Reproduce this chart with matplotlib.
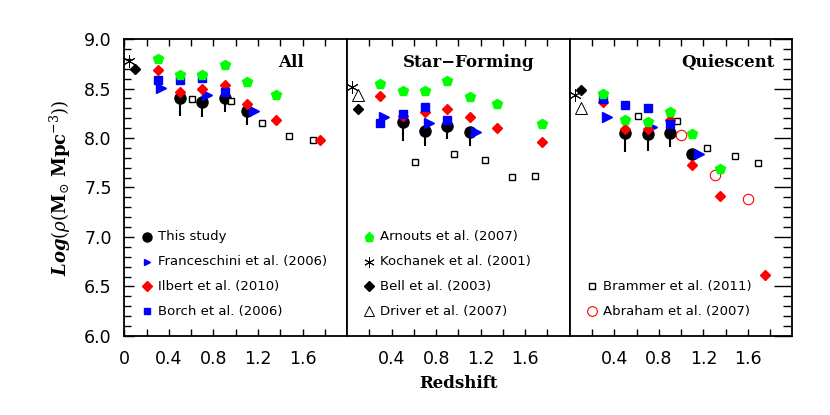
import numpy as np
import matplotlib
matplotlib.use("Agg")
import matplotlib.pyplot as plt
from matplotlib.ticker import MultipleLocator

plt.rcParams['mathtext.fontset'] = 'dejavuserif'

# ---- This study (black circles, lower error bars) ----
this_z = [0.50, 0.70, 0.90, 1.10]
this_all = [8.40, 8.36, 8.40, 8.27]
this_all_lo = [0.18, 0.15, 0.14, 0.14]
this_sf = [8.16, 8.07, 8.12, 8.06]
this_sf_lo = [0.19, 0.15, 0.13, 0.14]
this_q = [8.05, 8.04, 8.05, 7.84]
this_q_lo = [0.19, 0.17, 0.14, 0.10]
this_q_hi = [0.0, 0.0, 0.0, 0.05]

# ---- Arnouts et al. (2007) ----
arn_z_all = [0.30, 0.50, 0.70, 0.90, 1.10, 1.36]
arn_all = [8.80, 8.64, 8.64, 8.74, 8.57, 8.43]
arn_z_sf = [0.30, 0.50, 0.70, 0.90, 1.10, 1.35, 1.75]
arn_sf = [8.55, 8.47, 8.47, 8.58, 8.41, 8.34, 8.14]
arn_z_q = [0.30, 0.50, 0.70, 0.90, 1.10, 1.35]
arn_q = [8.44, 8.18, 8.16, 8.26, 8.04, 7.69]

# ---- Ilbert et al. (2010) ----
ilb_z_all = [0.30, 0.50, 0.70, 0.90, 1.10, 1.36, 1.76]
ilb_all = [8.69, 8.46, 8.49, 8.54, 8.34, 8.18, 7.98]
ilb_z_sf = [0.30, 0.50, 0.70, 0.90, 1.10, 1.35, 1.75]
ilb_sf = [8.42, 8.22, 8.26, 8.29, 8.21, 8.10, 7.96]
ilb_z_q = [0.30, 0.50, 0.70, 0.90, 1.10, 1.35, 1.75]
ilb_q = [8.36, 8.09, 8.09, 8.18, 7.73, 7.41, 6.62]

# ---- Borch et al. (2006) ----
bor_z = [0.30, 0.50, 0.70, 0.90]
bor_all = [8.59, 8.59, 8.61, 8.46]
bor_sf = [8.15, 8.24, 8.31, 8.18]
bor_q = [8.39, 8.33, 8.30, 8.14]

# ---- Franceschini et al. (2006) ----
fra_z = [0.33, 0.74, 1.16]
fra_all = [8.51, 8.43, 8.27]
fra_sf = [8.21, 8.15, 8.06]
fra_q = [8.21, 8.11, 7.84]

# ---- Brammer et al. (2011) ----
bra_z = [0.61, 0.96, 1.235, 1.48, 1.69]
bra_all = [8.39, 8.37, 8.15, 8.02, 7.98]
bra_sf = [7.76, 7.84, 7.78, 7.61, 7.62]
bra_q = [8.22, 8.17, 7.90, 7.82, 7.75]

# ---- Abraham et al. (2007), quiescent only ----
abr_z = [1.00, 1.30, 1.60]
abr_q = [8.03, 7.63, 7.38]

# ---- local points ----
koc_z = 0.045
koc = [8.78, 8.52, 8.43]
bell_z = 0.10
bell = [8.70, 8.29, 8.48]
drv_z = 0.10
drv = [None, 8.43, 8.30]

titles = ["All", "Star\u2212Forming", "Quiescent"]
title_x = [1.5, 1.09, 1.42]

legends = [
    ["This study", "Franceschini et al. (2006)", "Ilbert et al. (2010)", "Borch et al. (2006)"],
    ["Arnouts et al. (2007)", "Kochanek et al. (2001)", "Bell et al. (2003)", "Driver et al. (2007)"],
    ["Brammer et al. (2011)", "Abraham et al. (2007)"],
]
leg_y = [[7.0, 6.75, 6.5, 6.25], [7.0, 6.75, 6.5, 6.25], [6.5, 6.25]]

GREEN = "#00ff00"
RED = "#ff0000"
BLUE = "#0000ff"

sty = {
    "this": dict(marker="o", ms=8, color="k", mec="k", ls="none"),
    "arn": dict(marker="p", ms=7.5, color=GREEN, mec=GREEN, ls="none"),
    "ilb": dict(marker="D", ms=5.5, color=RED, mec=RED, ls="none"),
    "bor": dict(marker="s", ms=5.5, color=BLUE, mec=BLUE, ls="none"),
    "fra": dict(marker=">", ms=6.5, color=BLUE, mec=BLUE, ls="none"),
    "bra": dict(marker="s", ms=5, mfc="white", mec="k", mew=1.0, ls="none"),
    "abr": dict(marker="o", ms=7.5, mfc="none", mec=RED, mew=0.8, ls="none"),
    "koc": dict(marker=(6, 2, 0), ms=9, color="k", mew=0.7, ls="none"),
    "bell": dict(marker="D", ms=5.5, color="k", mec="k", ls="none"),
    "drv": dict(marker="^", ms=8, mfc="white", mec="k", mew=0.7, ls="none"),
}
leg_keys = [["this", "fra", "ilb", "bor"], ["arn", "koc", "bell", "drv"], ["bra", "abr"]]
leg_ms = {"this": 6.5, "fra": 5, "ilb": 5, "bor": 4.5, "arn": 6.5, "koc": 7.5,
          "bell": 4.8, "drv": 7.5, "bra": 4.5, "abr": 7}

fig = plt.figure(figsize=(8.3, 4.15), dpi=100)
axes = fig.subplots(1, 3, sharey=True)
fig.subplots_adjust(left=0.1498, right=0.9548, bottom=0.1904, top=0.906, wspace=0)

this_vals = [(this_all, [this_all_lo, [0] * 4]), (this_sf, [this_sf_lo, [0] * 4]),
             (this_q, [this_q_lo, this_q_hi])]
arn_vals = [(arn_z_all, arn_all), (arn_z_sf, arn_sf), (arn_z_q, arn_q)]
ilb_vals = [(ilb_z_all, ilb_all), (ilb_z_sf, ilb_sf), (ilb_z_q, ilb_q)]
bor_vals = [bor_all, bor_sf, bor_q]
fra_vals = [fra_all, fra_sf, fra_q]
bra_vals = [bra_all, bra_sf, bra_q]

for i, ax in enumerate(axes):
    yv, yerr = this_vals[i]
    ax.errorbar(this_z, yv, yerr=yerr, fmt="none", ecolor="k", elinewidth=1.5, capsize=0, zorder=2)
    ax.plot(this_z, yv, zorder=3, **sty["this"])
    ax.plot(bra_z, bra_vals[i], zorder=3, **sty["bra"])
    ax.plot(fra_z, fra_vals[i], zorder=3, **sty["fra"])
    ax.plot(ilb_vals[i][0], ilb_vals[i][1], zorder=4, **sty["ilb"])
    ax.plot(bor_z, bor_vals[i], zorder=5, **sty["bor"])
    ax.plot(arn_vals[i][0], arn_vals[i][1], zorder=6, **sty["arn"])
    ax.plot([koc_z], [koc[i]], zorder=6, clip_on=False, **sty["koc"])
    ax.plot([bell_z], [bell[i]], zorder=6, **sty["bell"])
    if drv[i] is not None:
        ax.plot([drv_z], [drv[i]], zorder=6, **sty["drv"])
    if i == 2:
        ax.plot(abr_z, abr_q, zorder=5, **sty["abr"])

    # legend entries drawn as text
    for key, lab, yy in zip(leg_keys[i], legends[i], leg_y[i]):
        s = dict(sty[key])
        s["ms"] = leg_ms[key]
        ax.plot([0.20], [yy], **s)
        ax.text(0.30, yy, lab, fontsize=9.5, va="center", ha="left")

    ax.text(title_x[i], 8.76, titles[i], fontsize=12, fontweight="bold",
            family="DejaVu Serif", ha="center", va="center")

    ax.set_xlim(0, 2.0)
    ax.set_ylim(6.0, 9.0)
    for sp in ax.spines.values():
        sp.set_linewidth(1.3)

    if i == 0:
        ax.set_xticks(np.arange(0, 2.0, 0.2))
        ax.set_xticklabels(["0", "", "0.4", "", "0.8", "", "1.2", "", "1.6", ""])
    else:
        ax.set_xticks(np.arange(0.2, 2.0, 0.2))
        ax.set_xticklabels(["", "0.4", "", "0.8", "", "1.2", "", "1.6", ""])
    ax.tick_params(axis="x", which="major", direction="in", length=5, width=1.0,
                   top=True, bottom=True, labelsize=12.5, pad=10)

    ax.yaxis.set_major_locator(MultipleLocator(0.5))
    ax.yaxis.set_minor_locator(MultipleLocator(0.1))
    if i == 0:
        ax.tick_params(axis="y", which="major", direction="in", length=7, width=1.0,
                       left=True, right=False, labelsize=12.5, pad=9)
        ax.tick_params(axis="y", which="minor", direction="in", length=5, width=1.0,
                       left=True, right=False)
        ax.yaxis.set_major_formatter(plt.FuncFormatter(lambda v, p: f"{v:.1f}"))
    elif i == 1:
        ax.tick_params(axis="y", which="both", left=False, right=False, labelleft=False)
    else:
        ax.tick_params(axis="y", which="major", direction="in", length=13, width=1.0,
                       left=False, right=True, labelleft=False)
        ax.tick_params(axis="y", which="minor", direction="in", length=6.5, width=1.0,
                       left=False, right=True)

axes[0].set_ylabel(r"$\mathbfit{Log}(\rho(\mathbf{M}_{\odot}\ \mathbf{Mpc}^{-3}))$",
                   fontsize=13, labelpad=8)
axes[1].set_xlabel("Redshift", fontsize=12, fontweight="bold", family="DejaVu Serif",
                   labelpad=5)

fig.savefig("out.png", dpi=100)
